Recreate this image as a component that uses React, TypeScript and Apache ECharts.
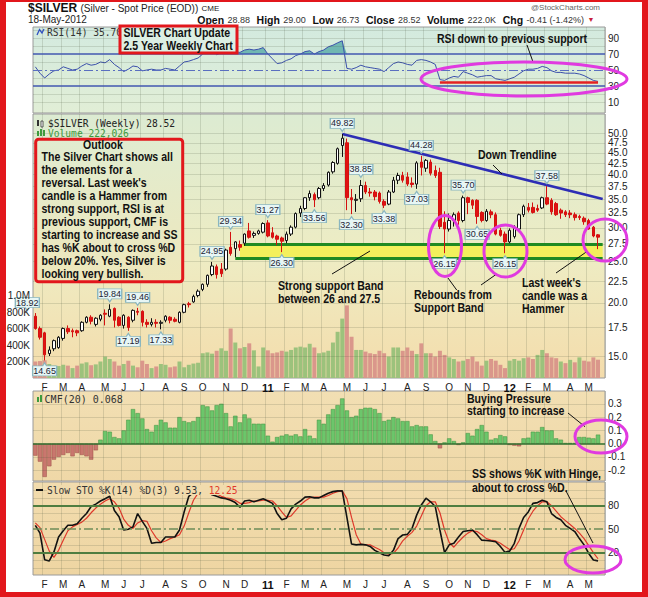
import React, { useEffect, useRef } from "react";
import * as echarts from "echarts";

// ---------- DATA ----------
const weekCount = 122; // weekly bars, first week ends 2010-01-22, last 2012-05-18
const opens = [
  18.6, 17.4, 17.0, 15.2, 15.6, 15.7, 16.5, 17.4, 17.2, 17.2,
  17.2, 18.0, 18.5, 17.8, 18.3, 18.9, 18.6, 19.4, 18.5, 17.7,
  18.5, 18.2, 19.1, 19.1, 18.0, 17.8, 18.0, 17.9, 18.2, 18.5,
  18.3, 18.0, 19.0, 19.9, 20.1, 20.8, 21.5, 22.1, 23.3, 24.3,
  24.0, 24.0, 27.0, 26.8, 27.4, 27.6, 29.5, 28.8, 29.1, 29.3,
  30.8, 29.2, 28.7, 28.4, 28.0, 29.0, 30.1, 32.5, 33.3, 35.3,
  35.9, 35.3, 37.1, 37.8, 40.6, 42.5, 46.8, 47.5, 35.3, 34.8,
  35.1, 37.7, 36.4, 36.4, 36.2, 34.6, 34.1, 36.4, 38.8, 39.8,
  39.5, 38.2, 38.0, 42.8, 41.4, 42.8, 40.9, 40.5, 30.9, 29.8,
  31.2, 32.5, 31.2, 35.3, 34.8, 34.8, 32.6, 31.2, 32.7, 32.2,
  29.6, 29.0, 27.8, 28.6, 29.8, 32.2, 33.5, 33.5, 33.3, 33.4,
  35.3, 34.8, 34.2, 33.0, 32.7, 32.5, 32.2, 31.9, 31.6, 31.2,
  30.1, 28.88,
];
const highs = [
  18.92, 17.6, 17.1, 15.8, 16.4, 16.7, 17.5, 17.7, 17.4, 17.3,
  18.1, 18.6, 18.7, 18.5, 18.8, 19.3, 19.84, 19.5, 18.6, 18.8,
  18.6, 19.3, 19.46, 19.2, 18.3, 18.4, 18.3, 18.2, 18.7, 18.6,
  18.5, 19.1, 19.9, 20.1, 20.9, 21.5, 22.2, 23.3, 24.95, 24.6,
  24.8, 26.8, 29.34, 27.9, 28.0, 29.1, 30.8, 29.4, 29.7, 30.9,
  31.27, 30.1, 28.9, 28.6, 29.4, 30.4, 32.6, 33.8, 35.4, 36.7,
  36.3, 37.4, 38.2, 40.7, 43.0, 46.3, 49.82, 48.6, 37.0, 36.0,
  38.85, 38.5, 37.2, 36.8, 36.5, 35.0, 36.8, 39.5, 40.4, 40.6,
  40.5, 39.4, 43.0, 44.28, 43.5, 43.4, 42.0, 41.5, 32.8, 32.4,
  32.6, 32.8, 35.7, 35.5, 35.0, 35.0, 32.8, 33.2, 33.1, 32.6,
  30.0, 29.4, 29.9, 30.4, 32.4, 34.0, 34.3, 34.4, 34.0, 35.5,
  37.58, 35.2, 34.5, 33.3, 33.0, 33.0, 32.6, 32.2, 31.9, 31.5,
  30.3, 29.0,
];
const lows = [
  17.3, 16.4, 14.65, 15.0, 15.4, 15.6, 16.3, 16.9, 16.6, 16.7,
  17.1, 17.9, 17.8, 17.6, 18.1, 17.7, 18.5, 17.5, 17.6, 17.4,
  17.19, 18.0, 18.7, 17.6, 17.5, 17.6, 17.5, 17.33, 18.0, 17.9,
  18.0, 17.9, 18.9, 19.5, 20.0, 20.6, 21.3, 21.8, 23.1, 22.8,
  23.0, 23.8, 25.8, 25.6, 26.5, 27.2, 28.3, 28.4, 28.9, 29.1,
  28.5, 28.3, 27.3, 26.3, 27.6, 28.7, 29.9, 31.8, 33.0, 34.7,
  33.56, 35.0, 36.6, 37.5, 40.2, 42.2, 44.0, 33.0, 32.3, 32.7,
  34.5, 36.0, 35.5, 34.8, 34.2, 33.38, 33.9, 36.2, 38.0, 38.3,
  37.6, 37.3, 37.03, 39.8, 40.6, 39.8, 39.3, 29.8, 26.15, 29.4,
  30.2, 30.5, 30.9, 32.3, 33.2, 30.65, 30.9, 31.0, 31.6, 28.8,
  28.6, 26.15, 27.6, 28.3, 29.6, 31.8, 32.6, 32.4, 32.7, 33.2,
  33.9, 32.2, 32.0, 31.5, 31.8, 31.6, 31.2, 31.3, 30.5, 29.7,
  28.5, 26.73,
];
const closes = [
  17.4, 16.6, 15.1, 15.5, 16.3, 16.6, 17.4, 17.1, 17.1, 17.0,
  18.0, 18.5, 18.1, 18.4, 18.7, 18.8, 19.3, 18.2, 17.7, 18.7,
  17.5, 19.2, 19.0, 18.0, 17.8, 18.0, 17.9, 18.0, 18.6, 18.2,
  18.1, 19.0, 19.8, 19.8, 20.7, 21.3, 22.1, 23.2, 24.4, 23.3,
  23.4, 26.6, 26.1, 27.8, 27.0, 29.0, 28.5, 29.1, 29.5, 30.7,
  28.7, 28.5, 28.2, 27.9, 29.0, 30.1, 32.4, 33.3, 35.3, 36.1,
  34.9, 37.1, 37.7, 40.5, 42.7, 46.0, 48.7, 35.3, 34.9, 35.0,
  37.7, 36.4, 36.2, 35.5, 34.6, 33.9, 36.4, 38.8, 39.8, 38.8,
  38.0, 37.9, 42.6, 41.6, 43.2, 40.3, 39.8, 30.2, 29.8, 31.2,
  32.2, 31.2, 35.3, 34.4, 33.9, 31.9, 31.2, 32.8, 32.2, 29.0,
  28.8, 27.8, 29.6, 30.1, 32.2, 33.7, 33.0, 32.6, 33.0, 35.3,
  34.1, 32.7, 32.2, 32.5, 32.2, 32.2, 31.7, 31.7, 31.0, 29.8,
  28.7, 28.52,
];
const volumesK = [
  200, 205, 215, 170, 150, 145, 160, 150, 120, 150,
  175, 190, 155, 165, 200, 260, 230, 200, 150, 170,
  210, 150, 130, 210, 170, 120, 140, 170, 160, 130,
  140, 200, 130, 160, 175, 185, 300, 310, 295, 330,
  360, 330, 600, 430, 360, 375, 420, 335, 140, 370,
  335, 300, 310, 330, 320, 340, 370, 380, 370, 415,
  370, 300, 310, 330, 430, 560, 720, 880, 500, 340,
  340, 320, 300, 290, 330, 300, 260, 370, 370, 330,
  370, 330, 290, 420, 300, 300, 260, 330, 280, 250,
  230, 200, 210, 230, 260, 200, 150, 210, 230, 210,
  160, 120, 210, 230, 210, 240, 250, 230, 280, 340,
  300, 250, 240, 200, 180, 220, 190, 250, 210, 200,
  250, 222,
];
const rsi14 = [
  54, 46, 40, 45, 49, 50, 54, 52, 50, 51,
  55, 58, 56, 57, 60, 59, 63, 57, 53, 48,
  51, 55, 54, 49, 50, 51, 50, 50, 52, 51,
  50, 55, 60, 61, 63, 65, 70, 74, 75, 69,
  72, 76, 71, 73, 72, 75, 76, 75, 76, 78,
  70, 64, 58, 59, 62, 64, 68, 70, 73, 74,
  70, 73, 75, 79, 81, 84, 86.5, 52, 51, 53,
  56, 54, 53, 52, 51, 48, 53, 58, 60, 59,
  57, 56, 62, 63, 62, 60, 57, 38, 37, 40,
  42, 41, 48, 46, 44, 41, 42, 43, 43, 39,
  38, 37, 39, 41, 45, 49, 51, 51, 52, 54.5,
  53, 49, 47, 47, 46, 46, 46, 45, 43, 40,
  37, 35.7,
];
const cmf20 = [
  -0.09, -0.135, -0.25, -0.17, -0.12, -0.1, -0.085, -0.07, -0.095, -0.07,
  -0.085, -0.095, -0.12, -0.05, 0.03, 0.095, 0.09, 0.05, 0.04, 0.1,
  0.18, 0.26, 0.23, 0.19, 0.11, 0.09, 0.14, 0.18, 0.16, 0.12,
  0.12, 0.2, 0.17, 0.16, 0.17, 0.2, 0.29, 0.28, 0.25, 0.29,
  0.3, 0.23, 0.13, 0.21, 0.16, 0.22, 0.19, 0.15, 0.15, 0.15,
  0.06, 0.015, 0.05, 0.06, 0.07, 0.06, 0.07, 0.055, 0.11, 0.06,
  0.04, 0.18, 0.15, 0.22, 0.26, 0.29, 0.34, 0.25, 0.2, 0.21,
  0.26, 0.27, 0.27, 0.26, 0.23, 0.17, 0.18, 0.2, 0.19, 0.17,
  0.17, 0.13, 0.14, 0.13, 0.13, 0.07, 0.02, -0.035, 0.01, 0.04,
  0.02, -0.01, 0.01, 0.08, 0.06, 0.11, 0.14, 0.09, 0.03, 0.04,
  0.065, 0.055, -0.01, -0.015, -0.02, 0.04, 0.045, 0.09, 0.09, 0.125,
  0.1, 0.1, 0.04, 0.03, 0.005, 0.005, 0.005, 0.05, 0.05, 0.045,
  0.04, 0.068,
];
const stoK = [
  55, 45, 11, 9.5, 21, 40, 48, 55, 55, 57,
  64, 70, 79, 82, 86, 89, 92, 74, 66, 49,
  50, 53, 70, 60, 51, 32, 33, 33, 40, 40,
  40, 49, 72, 92, 97, 99, 100, 98, 94, 92,
  90, 89, 87, 84, 78, 86, 87, 85, 87, 89,
  86, 83, 70, 62, 64, 76, 82, 86, 91, 91.5,
  90, 90, 93, 96, 98, 99, 99, 65, 31, 30,
  30.6, 30, 28, 23, 20, 17, 16, 23, 38, 42.6,
  43.4, 51, 68, 81, 89.6, 85, 79, 49, 20, 30,
  32, 40, 47, 48, 49, 43, 36, 35.5, 35, 34,
  28, 20.4, 22, 32, 51, 65, 72, 83, 84, 87,
  85, 70, 65, 62, 55, 51, 47, 38, 30, 19,
  10.6, 9.53,
];
const stoD = [
  58, 52, 37, 22, 14, 23, 36, 48, 53, 56,
  59, 64, 71, 77, 82, 86, 89, 85, 77, 63,
  55, 51, 58, 61, 60, 48, 39, 33, 35, 38,
  40, 43, 54, 71, 87, 96, 99, 99, 97, 95,
  92, 90, 89, 87, 83, 83, 84, 86, 86, 87,
  87, 86, 80, 72, 65, 67, 74, 81, 86, 90,
  91, 91, 91, 93, 96, 98, 99, 89, 65, 43,
  31, 30, 30, 27, 24, 20, 18, 19, 26, 35,
  41, 46, 54, 67, 80, 85, 85, 71, 49, 33,
  27, 34, 40, 45, 48, 47, 43, 38, 36, 35,
  32, 28, 24, 25, 35, 49, 63, 73, 80, 85,
  85, 80, 73, 66, 61, 56, 51, 45, 38, 29,
  20, 12.25,
];
// price call-outs
const calloutWeek = [0, 2, 16, 20, 22, 27, 38, 42, 50, 53, 60, 66, 68, 70, 75, 82, 83, 88, 92, 95, 101, 110];
const calloutPrice = [18.92, 14.65, 19.84, 17.19, 19.46, 17.33, 24.95, 29.34, 31.27, 26.3, 33.56, 49.82, 32.3, 38.85, 33.38, 37.03, 44.28, 26.15, 35.7, 30.65, 26.15, 37.58];
const calloutSide = ["h", "l", "h", "l", "h", "l", "h", "h", "h", "l", "l", "h", "l", "h", "l", "l", "h", "l", "h", "l", "l", "h"];
// axis ticks
const priceTicks = [15, 17.5, 20, 22.5, 25, 27.5, 30, 32.5, 35, 37.5, 40, 42.5, 45, 47.5, 50];
const volumeTicks = [200, 400, 600, 800, 1000];
const volumeTickLabels = ["200K", "400K", "600K", "800K", "1.0M"];
const rsiTicks = [10, 30, 50, 70, 90];
const cmfTicks = [-0.2, -0.1, 0, 0.1, 0.2, 0.3];
const stoTicks = [20, 50, 80];
const monthLetters = ["J", "F", "M", "A", "M", "J", "J", "A", "S", "O", "N", "D"];
// annotation lines (trend + support band)
const trendStart = { week: 66, price: 49.82 };
const trendEndPrice = 35.05;
const bandTop = 27.5;
const bandBottom = 25.5;
const rsiSupport = 34.6;

const outlookLines = [
  "The Silver Chart shows all",
  "the elements for a",
  "reversal. Last week's",
  "candle is a Hammer from",
  "strong support, RSI is at",
  "previous support, CMF is",
  "starting to increase and SS",
  "has %K about to cross %D",
  "below 20%. Yes, Silver is",
  "looking very bullish.",
];

// ---------- STYLE ----------
const RED = "#e2171c";
const MAG = "#e03ae0";
const BOLD = '"Liberation Sans", Arial, sans-serif';
const SANS = '"Liberation Sans", Arial, sans-serif';
const MONO = '"DejaVu Sans Mono", monospace';
const GRIDLINE = "rgba(70,85,60,0.17)";
const NOTE_SIZE = 12;
const NOTE_SX = 0.88; // condensed look of the annotation lettering

function makeWeeks(): string[] {
  const out: string[] = [];
  const t0 = Date.UTC(2010, 0, 22);
  for (let i = 0; i < weekCount; i++) out.push(new Date(t0 + i * 7 * 86400000).toISOString().slice(0, 10));
  return out;
}

function buildOption() {
  const weeks = makeWeeks();
  const cats = [...weeks, "end"];
  const monthStart = new Set<number>();
  for (let i = 1; i < weekCount; i++) if (weeks[i].slice(5, 7) !== weeks[i - 1].slice(5, 7)) monthStart.add(i);

  const xAx = (gi: number, labels: boolean) => ({
    type: "category",
    gridIndex: gi,
    data: cats,
    boundaryGap: true,
    axisLine: { show: false },
    axisTick: { show: false },
    axisLabel: {
      show: labels,
      interval: (i: number) => monthStart.has(i),
      formatter: (v: string) => {
        const m = +v.slice(5, 7);
        if (m === 1) return "{y|" + v.slice(2, 4) + "}";
        return monthLetters[m - 1];
      },
      fontSize: 10,
      fontFamily: SANS,
      color: "#222",
      margin: 4,
      rich: { y: { fontWeight: "bold", fontSize: 11, fontFamily: SANS, color: "#111" } },
    },
    splitLine: { show: true, interval: (i: number) => monthStart.has(i), lineStyle: { color: GRIDLINE, width: 1 } },
  });

  const lbl = (text: string | null, pos = "end") =>
    text == null
      ? { show: false }
      : { show: true, position: pos, formatter: text, distance: 3, color: "#222", fontSize: 10, fontFamily: SANS };
  const hl = (v: number, text: string | null, ls?: any) => ({
    yAxis: v,
    lineStyle: ls || { color: GRIDLINE, width: 1, type: "solid" },
    label: lbl(text),
  });
  const scaffold = (xi: number, yi: number, lines: any[], z = 1) => ({
    type: "line",
    xAxisIndex: xi,
    yAxisIndex: yi,
    data: cats.map(() => null),
    showSymbol: false,
    silent: true,
    z,
    lineStyle: { opacity: 0 },
    markLine: { silent: true, symbol: ["none", "none"], animation: false, data: lines },
  });

  // tick/grid lines
  const rsiLines: any[] = [];
  for (let v = 10; v <= 100; v += 10) {
    const isLbl = rsiTicks.indexOf(v) >= 0;
    let ls: any = undefined;
    if (v === 70 || v === 30) ls = { color: "#4257b0", width: 1.5, type: "solid" };
    if (v === 50) ls = { color: "#5a6fc0", width: 1.2, type: [9, 3, 2, 3] };
    rsiLines.push(hl(v, isLbl ? String(v) : null, ls));
  }
  const priceLines = priceTicks.map((v) => hl(v, v.toFixed(1)));
  const volLines = volumeTicks.map((v, i) => ({
    yAxis: v,
    lineStyle: { color: "rgba(0,0,0,0)", width: 0 },
    label: lbl(volumeTickLabels[i], "start"),
  }));
  const cmfLines = cmfTicks.map((v) =>
    hl(v, v.toFixed(1), v === 0 ? { color: "#2f6f2f", width: 1.6, type: "solid" } : undefined)
  );
  const stoLines: any[] = [];
  for (let v = 0; v <= 100; v += 10) {
    let ls: any = undefined;
    if (v === 80 || v === 20) ls = { color: "#4f7d40", width: 2, type: "solid" };
    if (v === 50) ls = { color: "#6c8c58", width: 1.6, type: [9, 3, 2, 3] };
    stoLines.push(hl(v, stoTicks.indexOf(v) >= 0 ? String(v) : null, ls));
  }

  const lg = (stops: [number, string][]) =>
    new echarts.graphic.LinearGradient(0, 0, 0, 1, stops.map(([offset, color]) => ({ offset, color })));
  const gridBase = { left: 33, width: 572, show: true, borderColor: "#9a9a9a", borderWidth: 1 };
  const grids = [
    { ...gridBase, top: 27, height: 86, backgroundColor: lg([[0, "#d3eadf"], [1, "#e1eed6"]]) },
    { ...gridBase, top: 114, height: 264, backgroundColor: lg([[0, "#dcebd2"], [0.55, "#eeecc3"], [1, "#f4dcab"]]) },
    { ...gridBase, top: 391, height: 90, backgroundColor: lg([[0, "#f2dfb3"], [1, "#efd8a7"]]) },
    { ...gridBase, top: 482, height: 93, backgroundColor: lg([[0, "#f2dcae"], [1, "#eed5a2"]]) },
  ];

  const candleData = opens.map((o, i) => [o, closes[i], lows[i], highs[i]]);
  const volData = volumesK.map((v, i) => {
    const prev = i > 0 ? closes[i - 1] : opens[i];
    const up = closes[i] >= prev;
    return { value: v, itemStyle: { color: up ? "#9cc27c" : "#da978b" } };
  });
  const cmfData = cmf20.map((v) => ({
    value: v,
    itemStyle: {
      color: v >= 0 ? "#6cc66b" : "#c9776e",
      borderColor: v >= 0 ? "#3f913f" : "#9c4f47",
      borderWidth: 0.5,
    },
  }));

  const PATH_HI = "path://M0,0H24V10H14L12,13L10,10H0Z";
  const PATH_LO = "path://M0,3H10L12,0L14,3H24V13H0Z";
  const callouts = calloutWeek.map((w, k) => {
    const hi = calloutSide[k] === "h";
    const edge = w === 0 ? -8 : 0;
    return {
      coord: [cats[w], calloutPrice[k]],
      value: calloutPrice[k],
      symbol: hi ? PATH_HI : PATH_LO,
      symbolSize: [24, 13],
      symbolOffset: [edge, hi ? -9 : 9],
      itemStyle: { color: "#e7f6f5", borderColor: "#8ab6bf", borderWidth: 1 },
      label: {
        show: true,
        position: "inside",
        formatter: calloutPrice[k].toFixed(2),
        offset: [0, hi ? -1.5 : 1.5],
        fontSize: 9,
        fontFamily: SANS,
        color: "#223",
      },
    };
  });

  const series: any[] = [
    // RSI
    scaffold(0, 0, rsiLines),
    { type: "line", xAxisIndex: 0, yAxisIndex: 0, stack: "rsiFill", data: rsi14.map(() => 70), showSymbol: false, silent: true, lineStyle: { opacity: 0 }, z: 2 },
    { type: "line", xAxisIndex: 0, yAxisIndex: 0, stack: "rsiFill", data: rsi14.map((v) => Math.max(v - 70, 0)), showSymbol: false, silent: true, lineStyle: { opacity: 0 }, areaStyle: { color: "#5eaeaa", opacity: 0.85 }, z: 2 },
    {
      type: "line", xAxisIndex: 0, yAxisIndex: 0, data: rsi14, showSymbol: false, z: 3,
      lineStyle: { color: "#3b50ab", width: 1 },
      markLine: {
        silent: true, symbol: ["none", "none"], animation: false,
        lineStyle: { color: "#e42222", width: 2.5, type: "solid" }, label: { show: false },
        data: [[{ coord: [cats[87], rsiSupport] }, { coord: [cats[121], rsiSupport] }]],
      },
    },
    // main
    scaffold(1, 1, priceLines),
    scaffold(1, 2, volLines),
    {
      type: "bar", xAxisIndex: 1, yAxisIndex: 2, data: volData, barCategoryGap: "14%", z: 2, silent: true,
    },
    {
      type: "line", xAxisIndex: 1, yAxisIndex: 1, data: cats.map(() => null), showSymbol: false, silent: true, z: 3,
      lineStyle: { opacity: 0 },
      markArea: {
        silent: true,
        itemStyle: { color: "#f3f05c", opacity: 1 },
        data: [[{ coord: [cats[44], bandTop] }, { coord: ["end", bandBottom] }]],
      },
      markLine: {
        silent: true, symbol: ["none", "none"], animation: false, label: { show: false },
        lineStyle: { color: "#1f8a22", width: 3, type: "solid" },
        data: [
          [{ coord: [cats[45], bandTop] }, { coord: ["end", bandTop] }],
          [{ coord: [cats[43], bandBottom] }, { coord: ["end", bandBottom] }],
        ],
      },
    },
    {
      type: "candlestick", xAxisIndex: 1, yAxisIndex: 1, data: candleData, barWidth: 3, z: 5,
      itemStyle: { color: "#ffffff", color0: "#e01212", borderColor: "#111111", borderColor0: "#d41010", borderWidth: 1 },
      markLine: {
        silent: true, symbol: ["none", "none"], animation: false, label: { show: false },
        lineStyle: { color: "#2d2db5", width: 2.5, type: "solid" },
        data: [[{ coord: [cats[trendStart.week], trendStart.price] }, { coord: ["end", trendEndPrice] }]],
      },
      markPoint: { silent: true, animation: false, data: callouts },
    },
    // CMF
    scaffold(2, 3, cmfLines),
    { type: "bar", xAxisIndex: 2, yAxisIndex: 3, data: cmfData, barCategoryGap: "8%", z: 3, silent: true },
    // STO
    scaffold(3, 4, stoLines),
    { type: "line", xAxisIndex: 3, yAxisIndex: 4, data: stoD, showSymbol: false, z: 3, lineStyle: { color: "#e0392b", width: 1.2 } },
    { type: "line", xAxisIndex: 3, yAxisIndex: 4, data: stoK, showSymbol: false, z: 4, lineStyle: { color: "#111", width: 1.6 } },
  ];

  // ---------- graphic annotations ----------
  const T = (x: number, y: number, text: string, size: number, opts: any = {}) => ({
    type: "text", x, y, z: 100, silent: true,
    scaleX: opts.sx != null ? opts.sx : 1,
    style: {
      text, fontSize: size, fontFamily: opts.family || BOLD, fontWeight: opts.weight || "bold",
      fill: opts.fill || "#111", textAlign: opts.align || "left", textVerticalAlign: "middle",
      ...(opts.extra || {}),
    },
  });
  const N = (x: number, y: number, text: string, align = "left") =>
    T(x, y, text, NOTE_SIZE, { sx: NOTE_SX, align });
  const L = (x1: number, y1: number, x2: number, y2: number, stroke = "#111", lw = 1) => ({
    type: "line", z: 100, silent: true, shape: { x1, y1, x2, y2 }, style: { stroke, lineWidth: lw },
  });
  const E = (cx: number, cy: number, rx: number, ry: number) => ({
    type: "ellipse", z: 101, silent: true, shape: { cx, cy, rx, ry }, style: { fill: "none", stroke: MAG, lineWidth: 3 },
  });

  const graphics: any[] = [
    // frame
    { type: "rect", z: 120, silent: true, shape: { x: 0, y: 0, width: 6, height: 597 }, style: { fill: RED } },
    { type: "rect", z: 120, silent: true, shape: { x: 642, y: 0, width: 6, height: 597 }, style: { fill: RED } },
    { type: "rect", z: 120, silent: true, shape: { x: 0, y: 0, width: 648, height: 2 }, style: { fill: RED } },
    { type: "rect", z: 120, silent: true, shape: { x: 0, y: 592, width: 648, height: 5 }, style: { fill: RED } },
    // header
    {
      type: "text", x: 28, y: 8, z: 100, silent: true,
      style: {
        text: "{a|$SILVER} {b|(Silver - Spot Price (EOD))} {c|CME}",
        textVerticalAlign: "middle",
        rich: {
          a: { fontSize: 12, fontWeight: "bold", fontFamily: SANS, fill: "#111" },
          b: { fontSize: 10, fontFamily: SANS, fill: "#222" },
          c: { fontSize: 8, fontFamily: SANS, fill: "#222" },
        },
      },
    },
    T(600, 7, "@StockCharts.com", 8, { family: SANS, weight: "normal", fill: "#666", align: "right" }),
    T(28, 19.5, "18-May-2012", 10, { family: SANS, weight: "normal", fill: "#222" }),
    {
      type: "text", x: 584, y: 19.5, z: 100, silent: true,
      style: {
        text: "{b|Open} {n|28.88}  {b|High} {n|29.00}  {b|Low} {n|26.73}  {b|Close} {n|28.52}  {b|Volume} {n|222.0K}  {b|Chg} {n|-0.41 (-1.42%)}",
        textAlign: "right", textVerticalAlign: "middle",
        rich: {
          b: { fontSize: 10.5, fontWeight: "bold", fontFamily: SANS, fill: "#111" },
          n: { fontSize: 9, fontFamily: SANS, fill: "#333" },
        },
      },
    },
    T(591, 19.5, "▼", 7, { family: SANS, weight: "normal", fill: "#c81e3a", align: "center" }),
    // RSI legend
    { type: "polyline", z: 100, silent: true, shape: { points: [[37, 35], [39.5, 29.5], [42, 33], [44, 29]] }, style: { stroke: "#3050c0", lineWidth: 1.3, fill: "none" } },
    T(47, 32, "RSI(14) 35.70", 9.6, { family: MONO, weight: "normal", fill: "#333" }),
    { type: "rect", z: 100, silent: true, shape: { x: 120, y: 26, width: 117, height: 27 }, style: { fill: "#dcefe3", stroke: RED, lineWidth: 3 } },
    N(123.5, 32.5, "SILVER Chart Update"),
    N(123.5, 45.5, "2.5 Year Weekly Chart"),
    N(437, 39, "RSI down to previous support"),
    L(527, 45, 533, 62),
    // main legend
    { type: "rect", z: 100, silent: true, shape: { x: 37, y: 120, width: 2, height: 6 }, style: { fill: "#333" } },
    { type: "rect", z: 100, silent: true, shape: { x: 41, y: 121, width: 2, height: 6 }, style: { fill: "#fff", stroke: "#333", lineWidth: 0.8 } },
    T(48, 123.5, "$SILVER (Weekly) 28.52", 9.6, { family: MONO, weight: "normal", fill: "#222", extra: { lineHeight: 9 } }),
    { type: "rect", z: 100, silent: true, shape: { x: 37, y: 131, width: 2, height: 5 }, style: { fill: "#3d9a3d" } },
    { type: "rect", z: 100, silent: true, shape: { x: 40, y: 129, width: 2, height: 7 }, style: { fill: "#3d9a3d" } },
    { type: "rect", z: 100, silent: true, shape: { x: 43, y: 130, width: 2, height: 6 }, style: { fill: "#3d9a3d" } },
    T(48, 133, "Volume 222,026", 9.6, { family: MONO, weight: "normal", fill: "#3d9a3d", extra: { lineHeight: 9 } }),
    // outlook box
    {
      type: "rect", z: 100, silent: true,
      shape: { x: 35.7, y: 139.3, width: 147, height: 142.4, r: 3 },
      style: { fill: lg([[0, "#e1ecd0"], [1, "#eee7bb"]]), stroke: RED, lineWidth: 3 },
    },
    N(103, 145, "Outlook", "center"),
    ...outlookLines.map((s, i) => N(41.5, 157 + 12.95 * i, s)),
    // main annotations
    N(478, 155, "Down Trendline"),
    L(493, 165, 502, 174),
    N(278, 286, "Strong support Band"),
    N(278, 299, "between 26 and 27.5"),
    L(332, 274, 370, 251),
    N(414, 294.3, "Rebounds from"),
    N(414, 307.3, "Support Band"),
    L(448, 278, 456.7, 290),
    L(481, 285, 496.7, 274),
    N(522, 282.7, "Last week's"),
    N(522, 295.7, "candle was a"),
    N(522, 308.7, "Hammer"),
    L(556, 273, 586.7, 251.7),
    E(524, 79, 103, 17),
    E(445, 246, 16.5, 30.5),
    E(505.5, 251, 21.5, 26),
    E(605, 240, 22, 21),
    // CMF legend + notes
    { type: "rect", z: 100, silent: true, shape: { x: 37, y: 397, width: 2, height: 5 }, style: { fill: "#3d9a3d" } },
    { type: "rect", z: 100, silent: true, shape: { x: 40, y: 395, width: 2, height: 7 }, style: { fill: "#3d9a3d" } },
    T(44.6, 399.3, "CMF(20) 0.068", 10, { family: MONO, weight: "normal", fill: "#333" }),
    N(467, 399, "Buying Pressure"),
    N(467, 411, "starting to increase"),
    L(568, 413, 585, 426.7),
    E(601, 436.5, 26, 16.5),
    // STO legend + notes
    L(36, 490, 43, 490, "#111", 2),
    {
      type: "text", x: 47, y: 490, z: 100, silent: true,
      style: {
        text: "{k|Slow STO %K(14) %D(3) 9.53, }{d|12.25}",
        textVerticalAlign: "middle",
        backgroundColor: "#f1dbad",
        rich: {
          k: { fontSize: 9.6, fontFamily: MONO, fill: "#333" },
          d: { fontSize: 9.6, fontFamily: MONO, fill: "#e0392b" },
        },
      },
    },
    N(472, 474, "SS shows %K with Hinge,"),
    N(472, 487.5, "about to cross %D."),
    L(566, 491, 593, 543),
    E(593, 559.5, 28, 13.5),
  ];

  return {
    animation: false,
    backgroundColor: "#ffffff",
    grid: grids,
    xAxis: [xAx(0, false), xAx(1, true), xAx(2, false), xAx(3, true)],
    yAxis: [
      { type: "value", gridIndex: 0, min: -3.75, max: 103.75, show: false },
      { type: "log", gridIndex: 1, min: 13.32, max: 55.5, logBase: 10, show: false },
      { type: "value", gridIndex: 1, min: 0, max: 3200, show: false },
      { type: "value", gridIndex: 2, min: -0.2805, max: 0.396, show: false },
      { type: "value", gridIndex: 3, min: -8.5, max: 110.3, show: false },
    ],
    series,
    graphic: { elements: graphics },
  };
}

export default function App() {
  const ref = useRef<HTMLDivElement>(null);
  useEffect(() => {
    const chart = echarts.init(ref.current as HTMLDivElement, null, { renderer: "svg" });
    chart.setOption(buildOption() as any);
    return () => chart.dispose();
  }, []);
  return <div ref={ref} style={{ position: "absolute", left: 0, top: 0, width: 648, height: 597 }} />;
}
